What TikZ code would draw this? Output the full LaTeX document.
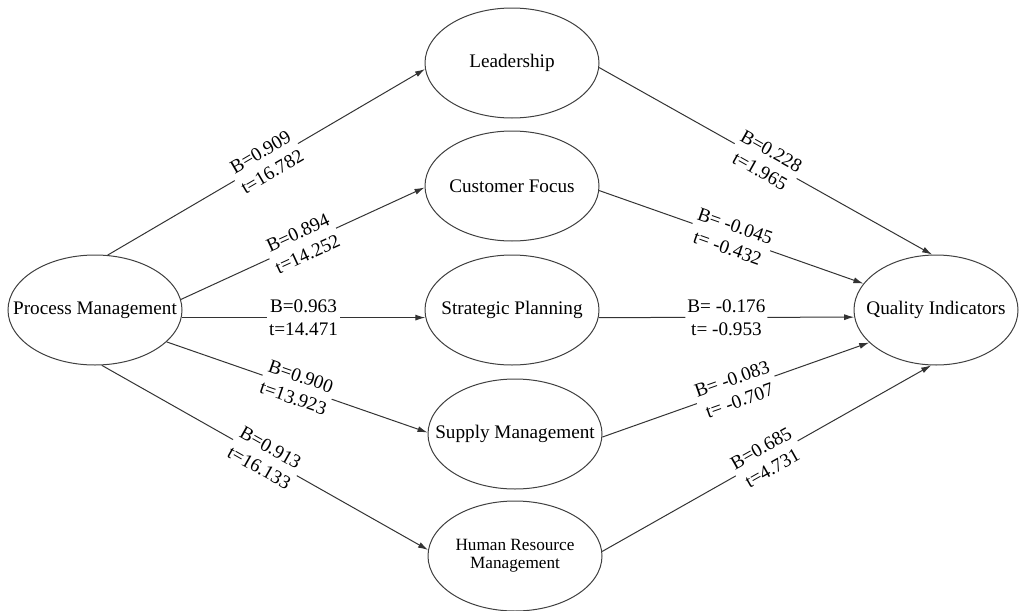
\documentclass[tikz,border=0pt]{standalone}
\usepackage{fontspec}
\setmainfont{Liberation Serif}
\usetikzlibrary{arrows.meta,shapes,positioning}
\tikzset{
  lat/.style  = { draw=black!75, ellipse, line width=0.5pt, inner xsep=-14pt, inner ysep=0pt,
    minimum width=87pt, minimum height=55pt, align=center,
    font=\fontsize{9.6}{11.5}\selectfont },
  coef/.style = { fill=white, sloped, inner sep=1pt, align=center,
    font=\fontsize{9.6}{11.5}\selectfont },
  link/.style = { draw=black!80, line width=0.5pt, -{Latex[length=5pt,width=3pt]} }
}

\begin{document}
\begin{tikzpicture}[x=0.5pt,y=-0.5pt,on grid]
    \useasboundingbox (0,0) rectangle (1019,611);
    % exogenous -> mediators -> outcome
    \node[lat] (pm) at (95,310) {Process Management};
    \node[lat, right=208.5pt of pm] (sp) {Strategic Planning};
    \node[lat, above=62pt of sp] (cf) {Customer Focus};
    \node[lat, above=61.5pt of cf] (ld) {Leadership};
    \node[lat, below=62pt of sp, xshift=1.5pt] (sm) {Supply Management};
    \node[lat, below=61pt of sm, font=\fontsize{8.6}{9}\selectfont] (hr) {Human Resource\\Management};
    \node[lat, right=212pt of sp, minimum width=82pt] (qi) {Quality Indicators};
    \path (pm.77) edge[link] node[coef] {B=0.909\\t=16.782} (ld.184);
    \path (pm.7) edge[link] node[coef] {B=0.894\\t=14.252} (cf.181);
    \path (pm.355) edge[link] node[coef] {B=0.963\\t=14.471} (sp.185);
    \path (pm.336) edge[link] node[coef] {B=0.900\\t=13.923} (sm.179);
    \path (pm.277) edge[link] node[coef] {B=0.913\\t=16.133} (hr.176);
    \path (ld.357) edge[link] node[coef] {B=0.228\\t=1.965} (qi.94);
    \path (cf.357) edge[link] node[coef] {B= -0.045\\t= -0.432} (qi.160);
    \path (sp.355) edge[link] node[coef] {B= -0.176\\t= -0.953} (qi.185);
    \path (sm.358) edge[link] node[coef] {B= -0.083\\t= -0.707} (qi.206);
    \path (hr.3) edge[link] node[coef] {B=0.685\\t=4.731} (qi.265);
\end{tikzpicture}
\end{document}
